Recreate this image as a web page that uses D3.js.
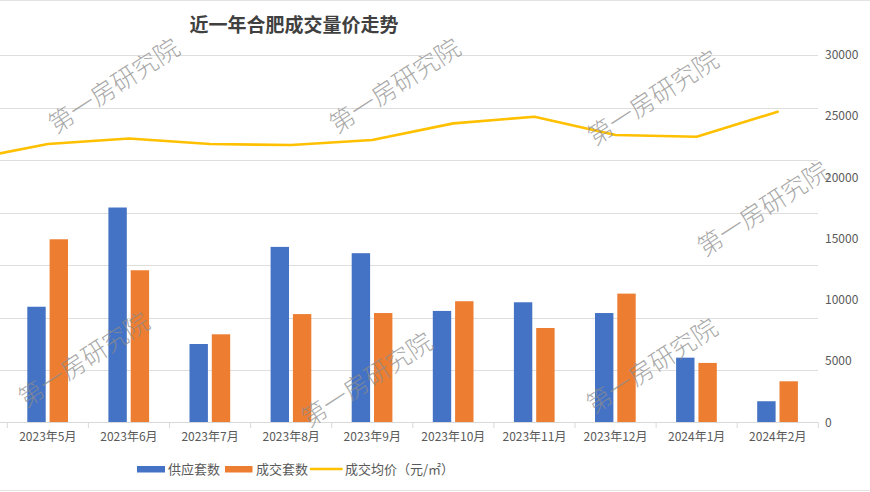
<!DOCTYPE html>
<html>
<head>
<meta charset="utf-8">
<script src="https://cdn.jsdelivr.net/npm/d3@7"></script>
<style>
  html, body { margin: 0; padding: 0; background: #fff; }
  svg { display: block; font-family: "Noto Sans CJK SC", "Noto Sans", sans-serif; }
</style>
</head>
<body>
<div id="chart"></div>
<script>
// ---- data (first month is cut off at the left edge of the picture) ----
const months = ["2023年4月", "2023年5月", "2023年6月", "2023年7月", "2023年8月", "2023年9月",
                "2023年10月", "2023年11月", "2023年12月", "2024年1月", "2024年2月"];
const supply = [null, 4410, 8190, 2990, 6690, 6450, 4250, 4580, 4170, 2470, 810];     // 供应套数
const deals  = [null, 6980, 5800, 3360, 4130, 4170, 4620, 3600, 4910, 2270, 1570];    // 成交套数
const avgPrice = [21450, 22730, 23180, 22730, 22650, 23060, 24420, 24960, 23470, 23330, 25370]; // 成交均价
const leftTicks = [0, 2000, 4000, 6000, 8000, 10000, 12000, 14000];
const rightTicks = [0, 5000, 10000, 15000, 20000, 25000, 30000];
const seriesNames = ["供应套数", "成交套数", "成交均价（元/㎡）"];
const watermark = "第一房研究院";
const watermarkSpots = [[114, 86], [395, 86], [653, 98], [763, 209], [84, 360], [367, 380], [652, 366]];

const W = 870, H = 492;
const colors = { supply: "#4472C4", deals: "#ED7D31", price: "#FFC000" };

const svg = d3.select("#chart").append("svg").attr("width", W).attr("height", H);

// outer frame lines
svg.append("line").attr("x1", 0).attr("x2", W).attr("y1", 0.5).attr("y2", 0.5).attr("stroke", "#e3e3e3");
svg.append("line").attr("x1", 0).attr("x2", W).attr("y1", 490.5).attr("y2", 490.5).attr("stroke", "#e3e3e3");

const x = d3.scaleBand().domain(months).range([-73.8, 818.3]).paddingInner(0).paddingOuter(0);
const x1 = d3.scaleBand().domain(["supply", "deals"]).range([20, 60.7]).paddingInner(0.175).paddingOuter(0);
const y = d3.scaleLinear().domain([0, 14000]).range([422.5, 55]);
const yR = d3.scaleLinear().domain([0, 30000]).range([422.5, 55]);

// gridlines (primary axis, labels not shown in the picture)
svg.append("g").selectAll("line").data(leftTicks.slice(1)).join("line")
  .attr("x1", 0).attr("x2", 818)
  .attr("y1", d => Math.round(y(d)) + 0.5).attr("y2", d => Math.round(y(d)) + 0.5)
  .attr("stroke", "#dedede").attr("stroke-width", 1);

// right axis labels
svg.append("g").selectAll("text").data(rightTicks).join("text")
  .attr("x", 825).attr("y", d => yR(d)).attr("dy", "0.35em")
  .attr("font-size", 12).attr("fill", "#595959")
  .text(d => d);

// bars
const groups = svg.append("g").selectAll("g").data(months).join("g")
  .attr("transform", d => `translate(${x(d)},0)`);
groups.selectAll("rect").data((d, i) => [
    { key: "supply", v: supply[i] }, { key: "deals", v: deals[i] }
  ].filter(e => e.v != null)).join("rect")
  .attr("x", d => x1(d.key)).attr("width", x1.bandwidth())
  .attr("y", d => y(d.v)).attr("height", d => y(0) - y(d.v))
  .attr("fill", d => colors[d.key]);

// x axis (labels only for the months visible in the picture)
const xAxis = svg.append("g").attr("transform", "translate(0,422.5)")
  .call(d3.axisBottom(x).tickValues(months.slice(1)).tickSize(0).tickPadding(10));
xAxis.select(".domain").remove();
xAxis.selectAll("text").attr("font-size", 12).attr("fill", "#595959")
  .attr("font-family", "'Noto Sans CJK SC', sans-serif");
svg.append("line").attr("x1", 0).attr("x2", 818.3).attr("y1", 422.5).attr("y2", 422.5)
  .attr("stroke", "#d9d9d9");
svg.append("g").selectAll("line").data(months.slice(1).concat(["end"])).join("line")
  .attr("x1", d => d === "end" ? 818.3 : x(d)).attr("x2", d => d === "end" ? 818.3 : x(d))
  .attr("y1", 422.5).attr("y2", 428).attr("stroke", "#d9d9d9");

// price line
const line = d3.line().x((d, i) => x(months[i]) + x.bandwidth() / 2).y(d => yR(d));
svg.append("path").datum(avgPrice).attr("d", line)
  .attr("fill", "none").attr("stroke", colors.price).attr("stroke-width", 2.6)
  .attr("stroke-linejoin", "round").attr("stroke-linecap", "round");

// title
svg.append("text").attr("x", 294).attr("y", 25).attr("dy", "0.35em")
  .attr("text-anchor", "middle").attr("font-size", 19).attr("font-weight", "bold")
  .attr("fill", "#404040").text("近一年合肥成交量价走势");

// legend
const lg = svg.append("g");
lg.append("rect").attr("x", 137).attr("y", 466).attr("width", 28).attr("height", 6.5).attr("fill", colors.supply);
lg.append("text").attr("x", 168).attr("y", 469).attr("dy", "0.35em").attr("font-size", 13).attr("fill", "#595959").text(seriesNames[0]);
lg.append("rect").attr("x", 225).attr("y", 466).attr("width", 27.5).attr("height", 6.5).attr("fill", colors.deals);
lg.append("text").attr("x", 256).attr("y", 469).attr("dy", "0.35em").attr("font-size", 13).attr("fill", "#595959").text(seriesNames[1]);
lg.append("line").attr("x1", 311).attr("x2", 341.5).attr("y1", 469).attr("y2", 469)
  .attr("stroke", colors.price).attr("stroke-width", 2.6).attr("stroke-linecap", "round");
lg.append("text").attr("x", 345).attr("y", 469).attr("dy", "0.35em").attr("font-size", 13).attr("fill", "#595959").text(seriesNames[2]);

// watermarks
svg.append("g").selectAll("text").data(watermarkSpots).join("text")
  .attr("transform", d => `translate(${d[0]},${d[1]}) rotate(-33)`)
  .attr("text-anchor", "middle").attr("dy", "0.35em")
  .attr("font-size", 25).attr("fill", "#8c8c8c").attr("fill-opacity", 0.75)
  .attr("font-weight", 300)
  .text(watermark);
</script>
</body>
</html>
